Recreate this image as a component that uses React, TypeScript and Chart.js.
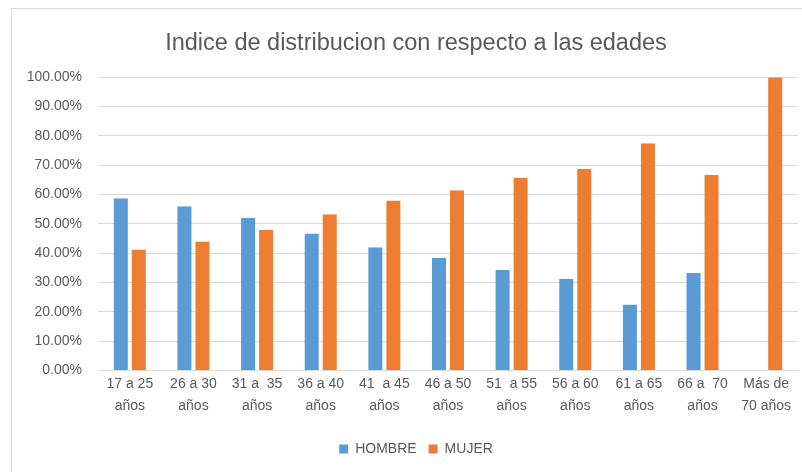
import React, { useEffect, useRef } from "react";
import { Chart, registerables } from "chart.js";

Chart.register(...registerables);

const categories: string[][] = [
  ["17 a 25", "años"],
  ["26 a 30", "años"],
  ["31 a  35", "años"],
  ["36 a 40", "años"],
  ["41  a 45", "años"],
  ["46 a 50", "años"],
  ["51  a 55", "años"],
  ["56 a 60", "años"],
  ["61 a 65", "años"],
  ["66 a  70", "años"],
  ["Más de", "70 años"],
];

const hombre: (number | null)[] = [0.587, 0.56, 0.52, 0.467, 0.42, 0.385, 0.343, 0.313, 0.225, 0.333, null];
const mujer: number[] = [0.413, 0.44, 0.48, 0.533, 0.58, 0.615, 0.657, 0.687, 0.775, 0.667, 1.0];

const titleText = "Indice de distribucion con respecto a las edades";
const seriesNames = ["HOMBRE", "MUJER"];

const FONT = "'Liberation Sans', Arial, sans-serif";
const GRAY = "#595959";

const unclipY = {
  id: "unclipY",
  afterLayout: (chart: any) => {
    const y = chart.scales.y;
    if (y) y.left = 0;
  },
};

export default function App() {
  const ref = useRef<HTMLCanvasElement | null>(null);

  useEffect(() => {
    if (!ref.current) return;
    const chart = new Chart(ref.current, {
      type: "bar",
      data: {
        labels: categories,
        datasets: [
          {
            label: seriesNames[0],
            data: hombre,
            backgroundColor: "#5B9BD5",
            borderColor: "rgba(0,0,0,0)",
            borderWidth: { left: 2, right: 2, top: 0, bottom: 0 },
            borderSkipped: false,
          },
          {
            label: seriesNames[1],
            data: mujer,
            backgroundColor: "#ED7D31",
            borderColor: "rgba(0,0,0,0)",
            borderWidth: { left: 2, right: 2, top: 0, bottom: 0 },
            borderSkipped: false,
          },
        ],
      },
      plugins: [unclipY],
      options: {
        responsive: false,
        animation: false,
        layout: { padding: { left: 34, right: 4, top: 0, bottom: 6 } },
        datasets: {
          bar: { categoryPercentage: 0.566, barPercentage: 1 },
        },
        plugins: {
          title: {
            display: true,
            text: titleText,
            color: GRAY,
            font: { family: FONT, size: 23.5, weight: "normal" },
            padding: { top: 29, bottom: 20 },
          },
          legend: {
            position: "bottom",
            labels: {
              color: GRAY,
              font: { family: FONT, size: 14 },
              boxWidth: 9,
              boxHeight: 9,
              padding: 12,
            },
          },
          tooltip: { enabled: false },
        },
        scales: {
          x: {
            afterFit: (s: any) => {
              s.height += 10;
            },
            grid: { display: false, drawTicks: false },
            border: { color: "#d9d9d9" },
            ticks: {
              color: GRAY,
              font: { family: FONT, size: 14, lineHeight: 1.55 },
              padding: 3,
              maxRotation: 0,
              autoSkip: false,
            },
          },
          y: {
            min: 0,
            max: 1,
            afterFit: (s: any) => {
              s.width = 64;
            },
            grid: { color: "#d9d9d9", drawTicks: false },
            border: { display: false },
            ticks: {
              stepSize: 0.1,
              padding: 16,
              color: GRAY,
              font: { family: FONT, size: 14 },
              callback: (v: any) => (Number(v) * 100).toFixed(2) + "%",
            },
          },
        },
      },
    });
    return () => chart.destroy();
  }, []);

  return (
    <div style={{ position: "absolute", left: 0, top: 0, width: 802, height: 472, overflow: "hidden", background: "#fff" }}>
      <div
        style={{
          position: "absolute",
          left: 11,
          top: 8,
          width: 820,
          height: 500,
          border: "1px solid #d9d9d9",
          boxSizing: "border-box",
        }}
      />
      <canvas ref={ref} width={802} height={472} style={{ position: "absolute", left: 0, top: 0 }} />
    </div>
  );
}
